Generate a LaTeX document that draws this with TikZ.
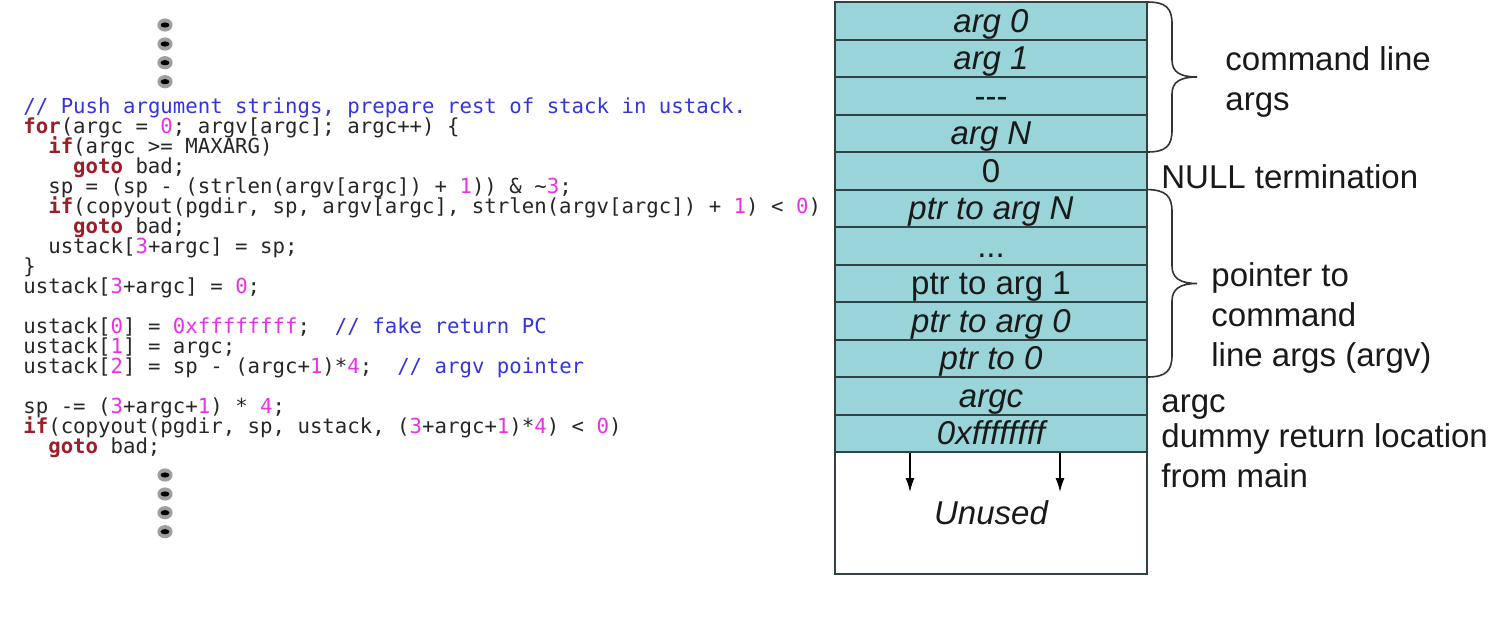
\documentclass[tikz,border=0pt]{standalone}
\usepackage{fontspec}
\setmainfont{Liberation Sans}
\setmonofont{DejaVu Sans Mono}
\usetikzlibrary{positioning,arrows.meta}

\definecolor{cellteal}{RGB}{153,212,216}
\definecolor{cellline}{RGB}{48,66,68}
\definecolor{kwred}{RGB}{158,30,40}
\definecolor{cmtblue}{RGB}{52,52,222}
\definecolor{nummag}{RGB}{232,48,232}
\definecolor{codegray}{RGB}{38,38,38}

\newcommand{\kw}[1]{{\bfseries\color{kwred}#1}}
\newcommand{\cmt}[1]{{\color{cmtblue}#1}}
\newcommand{\cnum}[1]{{\color{nummag}#1}}

\tikzset{
  codeline/.style={anchor=base west, inner sep=0pt, text=codegray,
    font=\ttfamily\fontsize{10.35}{10}\selectfont},
  cell/.style={draw=cellline, line width=1pt, fill=cellteal,
    minimum width=156pt, minimum height=18.75pt, inner sep=0pt, outer sep=0pt,
    text height=14.5pt, text depth=3pt, text=black!90,
    font=\fontsize{16.5}{20}\selectfont},
  icell/.style={cell, font=\fontsize{16.5}{20}\selectfont\itshape},
  note/.style={inner sep=0pt, align=left, text=black!90,
    font=\fontsize{16.5}{20}\selectfont},
  bracepen/.style={draw=black!80, line width=0.8pt},
}

\begin{document}
\begin{tikzpicture}[x=0.5pt,y=-0.5pt]
    \useasboundingbox (0,0) rectangle (1498,618);

    % vertical ellipsis above and below the code
    \foreach \y in {25,44,62.7,81.7,475,494,512.7,531.7}{%
      \fill[gray!75] (165,\y) ellipse (3.8pt and 3.3pt);
      \fill[black] (165,\y) ellipse (2.2pt and 1.3pt);
    }

    % code, one node per line
    \node[codeline] (ln1)  at (23,113)   {\cmt{// Push argument strings, prepare rest of stack in ustack.}};
    \node[codeline] (ln2)  at (23,133)   {\kw{for}(argc = \cnum{0}; argv[argc]; argc++) \{};
    \node[codeline] (ln3)  at (47.9,153) {\kw{if}(argc >= MAXARG)};
    \node[codeline] (ln4)  at (72.8,173) {\kw{goto} bad;};
    \node[codeline] (ln5)  at (47.9,193) {sp = (sp - (strlen(argv[argc]) + \cnum{1})) \& \textasciitilde\cnum{3};};
    \node[codeline] (ln6)  at (47.9,213) {\kw{if}(copyout(pgdir, sp, argv[argc], strlen(argv[argc]) + \cnum{1}) < \cnum{0})};
    \node[codeline] (ln7)  at (72.8,233) {\kw{goto} bad;};
    \node[codeline] (ln8)  at (47.9,253) {ustack[\cnum{3}+argc] = sp;};
    \node[codeline] (ln9)  at (23,273)   {\}};
    \node[codeline] (ln10) at (23,293)   {ustack[\cnum{3}+argc] = \cnum{0};};
    \node[codeline] (ln11) at (23,333)   {ustack[\cnum{0}] = \cnum{0xffffffff};\ \ \cmt{// fake return PC}};
    \node[codeline] (ln12) at (23,353)   {ustack[\cnum{1}] = argc;};
    \node[codeline] (ln13) at (23,373)   {ustack[\cnum{2}] = sp - (argc+\cnum{1})*\cnum{4};\ \ \cmt{// argv pointer}};
    \node[codeline] (ln14) at (23,413)   {sp -= (\cnum{3}+argc+\cnum{1}) * \cnum{4};};
    \node[codeline] (ln15) at (23,433)   {\kw{if}(copyout(pgdir, sp, ustack, (\cnum{3}+argc+\cnum{1})*\cnum{4}) < \cnum{0})};
    \node[codeline] (ln16) at (47.9,453) {\kw{goto} bad;};

    % the user stack
    \node[icell, anchor=north] (argzero) at (991,2) {arg 0};
    \node[icell, below=0pt of argzero] (argone)  {arg 1};
    \node[cell,  below=0pt of argone]  (argdots) {-\kern0pt-\kern0pt-};
    \node[icell, below=0pt of argdots] (argN)    {arg N};
    \node[cell,  below=0pt of argN]    (argnull) {0};
    \node[icell, below=0pt of argnull] (ptrN)    {ptr to arg N};
    \node[cell,  below=0pt of ptrN]    (ptrdots) {...};
    \node[cell,  below=0pt of ptrdots] (ptrone)  {ptr to arg 1};
    \node[icell, below=0pt of ptrone]  (ptrzero) {ptr to arg 0};
    \node[icell, below=0pt of ptrzero] (ptrnull) {ptr to 0};
    \node[icell, below=0pt of ptrnull] (argcrow) {argc};
    \node[icell, below=0pt of argcrow] (retpc)   {0xffffffff};
    \node[icell, fill=white, minimum height=61pt, below=0pt of retpc] (unused) {Unused};

    % growth arrows
    \coordinate (growLa) at (910,453);
    \coordinate (growLb) at (910,492);
    \coordinate (growRa) at (1060,453);
    \coordinate (growRb) at (1060,492);
    \draw[-{Latex[length=7pt,width=4.5pt]}, line width=0.7pt] (growLa) -- (growLb);
    \draw[-{Latex[length=7pt,width=4.5pt]}, line width=0.7pt] (growRa) -- (growRb);

    % braces
    \draw[bracepen] (argzero.north east)
        .. controls (1166,2) and (1172,8) .. (1172,24) -- (1172,60)
        .. controls (1172,72) and (1180,77) .. (1197,77)
        .. controls (1180,77) and (1172,82) .. (1172,94) -- (1172,130)
        .. controls (1172,146) and (1166,152) .. (argN.south east);
    \draw[bracepen] (ptrN.north east)
        .. controls (1166,190) and (1172,196) .. (1172,212) -- (1172,266)
        .. controls (1172,278) and (1180,283.5) .. (1197,283.5)
        .. controls (1180,283.5) and (1172,289) .. (1172,301) -- (1172,355)
        .. controls (1172,371) and (1166,377) .. (ptrnull.south east);

    % labels
    \node[note, anchor=west] (cmdargs) at (1225,82) {command line\\args};
    \node[note, anchor=base west] (nullterm) at (1161,188) {NULL termination};
    \node[note, anchor=west] (argvlbl) at (1211,317.5) {pointer to\\command\\line args (argv)};
    \node[note, anchor=base west] (argclbl) at (1161,412) {argc};
    \node[note, anchor=west] (retlbl) at (1161,456) {dummy return location\\from main};
\end{tikzpicture}
\end{document}
